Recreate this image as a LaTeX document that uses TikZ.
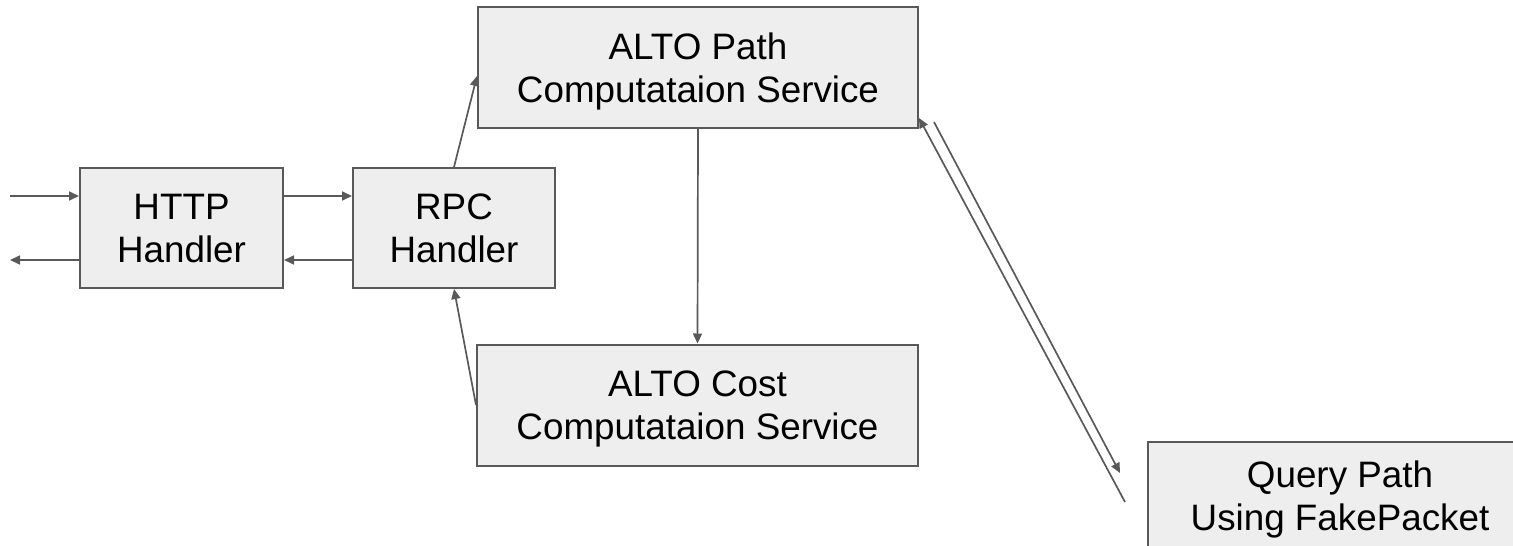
\documentclass[tikz,border=0pt]{standalone}
\usepackage{fontspec}
\setmainfont{Liberation Sans}
\usetikzlibrary{arrows.meta}
\definecolor{boxfill}{HTML}{EEEEEE}
\definecolor{edgegray}{HTML}{595959}
\begin{document}
\begin{tikzpicture}[x=1pt,y=-1pt,
  block/.style={draw=edgegray, fill=boxfill, line width=2pt, inner sep=0pt,
    align=center, text depth=0pt, font=\fontsize{36.8}{43}\selectfont},
  link/.style={draw=edgegray, line width=1.7pt, -{Triangle[length=10pt,width=9pt]}}]
\useasboundingbox (0,0) rectangle (1513,546);
\clip (0,0) rectangle (1513,546);

% service blocks
\node[block, minimum width=203pt, minimum height=120pt] (http) at (181.5,228) {HTTP\\Handler};
\node[block, minimum width=202pt, minimum height=120pt] (rpc) at (454,228) {RPC\\Handler};
\node[block, minimum width=440pt, minimum height=121pt] (path) at (698,67.5) {ALTO Path\\Computataion Service};
\node[block, minimum width=441pt, minimum height=121pt] (cost) at (697.5,405) {ALTO Cost\\Computataion Service};
\node[block, minimum width=384pt, minimum height=108pt] (query) at (1340,496) {Query Path\\Using FakePacket};

% request / response with the outside
\coordinate (inS) at (10,196);
\coordinate (outE) at (10,260);
\draw[link] (inS) -- (inS -| http.west);
\draw[link] (outE -| http.west) -- (outE);

% HTTP <-> RPC
\draw[link] ([yshift=32pt]http.east) -- ([yshift=32pt]rpc.west);
\draw[link] ([yshift=-32pt]rpc.west) -- ([yshift=-32pt]http.east);

% RPC -> path service, cost service -> RPC
\draw[link] (rpc.north) -- ([yshift=-8.5pt]path.west);
\draw[link] (cost.west) -- (rpc.south);
\draw[link] (path.south) -- (cost.north);

% path service <-> FakePacket query
\coordinate (qa) at (1125,502);
\draw[link] (qa) -- ([yshift=11pt]path.south east);
\coordinate (qb1) at (934,122);
\coordinate (qb2) at (1120,473);
\draw[link] (qb1) -- (qb2);
\end{tikzpicture}
\end{document}
